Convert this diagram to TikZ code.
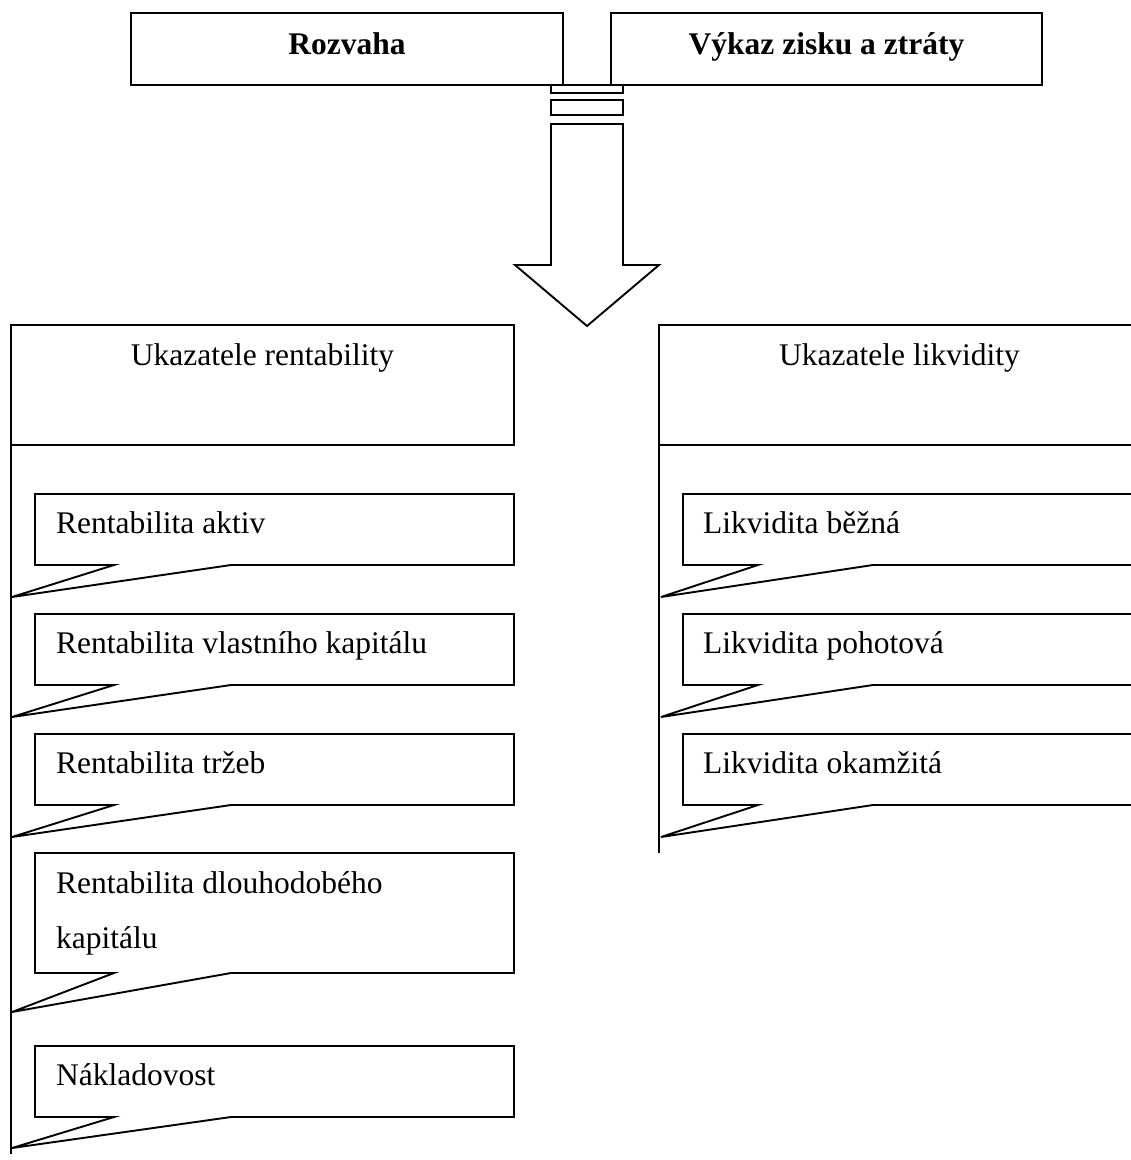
\documentclass[tikz,border=0pt]{standalone}
\usepackage{fontspec}
\setmainfont{Liberation Serif}
\begin{document}
\begin{tikzpicture}[x=1pt,y=-1pt,
  frame/.style={draw=black,line width=1.9pt,line join=miter},
  lbl/.style={inner sep=0pt,anchor=base west,font=\fontsize{31.5}{36}\selectfont},
  clbl/.style={inner sep=0pt,anchor=base,font=\fontsize{31.5}{36}\selectfont},
  blbl/.style={inner sep=0pt,anchor=base,font=\fontsize{31.5}{36}\selectfont\bfseries}]
\useasboundingbox[fill=white] (0,0) rectangle (1131,1160);
\begin{scope}
\clip (0,0) rectangle (1131,1160);

% source statements
\draw[frame] (131,13) rectangle (563,85);
\draw[frame] (611,13) rectangle (1042,85);
\node[blbl] (rozvaha) at (347,54) {Rozvaha};
\node[blbl] (vzz) at (826.5,54) {Výkaz zisku a ztráty};

% block arrow pointing down
\draw[frame] (551,85) rectangle (623,93);
\draw[frame] (551,100) rectangle (623,115);
\draw[frame] (551,124) -- (551,265) -- (515,265) -- (587,326) -- (659,265)
  -- (623,265) -- (623,124) -- cycle;

% left group: profitability ratios
\draw[frame] (11,325) rectangle (514,445);
\draw[frame] (11,445) -- (11,1154);
\node[clbl] (rent) at (262.5,365) {Ukazatele rentability};

% right group: liquidity ratios
\draw[frame] (659,325) rectangle (1140,445);
\draw[frame] (659,445) -- (659,853);
\node[clbl] (likv) at (899.5,365) {Ukazatele likvidity};

% callout boxes: left edge, right edge, top, bottom, tail start, tail back, tip x, tip y
\newcommand{\callout}[8]{%
  \draw[frame] (#1,#3) -- (#2,#3) -- (#2,#4) -- (#6,#4) -- (#7,#8) -- (#5,#4) -- (#1,#4) -- cycle;}

\callout{35}{514}{494}{565}{114}{231}{12}{597}
\callout{35}{514}{614}{685}{114}{231}{12}{717}
\callout{35}{514}{734}{805}{114}{231}{12}{837}
\callout{35}{514}{853}{973}{114}{231}{12}{1012}
\callout{35}{514}{1046}{1117}{114}{231}{12}{1148}

\callout{683}{1145}{494}{565}{758}{873}{661}{597}
\callout{683}{1145}{614}{685}{758}{873}{661}{717}
\callout{683}{1145}{734}{805}{758}{873}{661}{837}

\node[lbl] (ra) at (56,533) {Rentabilita aktiv};
\node[lbl] (rvk) at (56,653) {Rentabilita vlastního kapitálu};
\node[lbl] (rt) at (56,773) {Rentabilita tržeb};
\node[lbl] (rdk1) at (56,893) {Rentabilita dlouhodobého};
\node[lbl] (rdk2) at (56,948) {kapitálu};
\node[lbl] (nak) at (56,1085) {Nákladovost};

\node[lbl] (lb) at (703,533) {Likvidita běžná};
\node[lbl] (lp) at (703,653) {Likvidita pohotová};
\node[lbl] (lo) at (703,773) {Likvidita okamžitá};
\end{scope}
\end{tikzpicture}
\end{document}
